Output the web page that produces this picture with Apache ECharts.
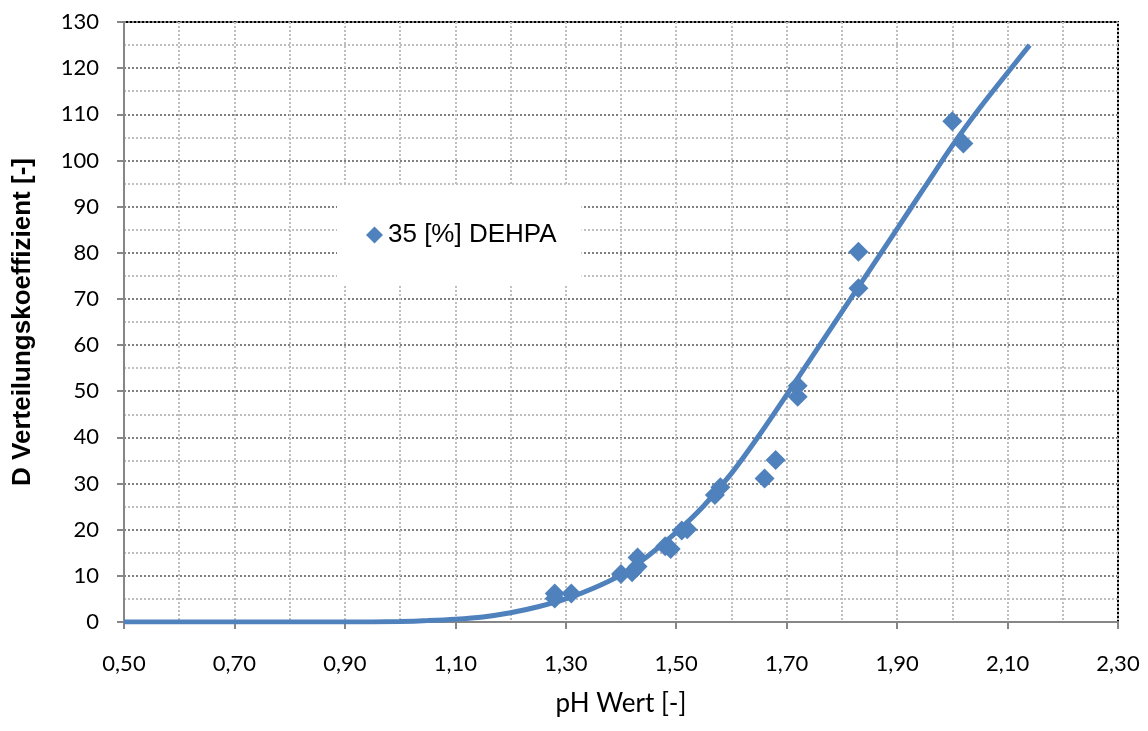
<!DOCTYPE html>
<html lang="de">
<head>
    <meta charset="utf-8">
    <script src="https://cdn.jsdelivr.net/npm/echarts@6/dist/echarts.min.js"></script>
    <style>
        html, body { margin: 0; padding: 0; background: #fff; }
        #chart { width: 1148px; height: 731px; }
    </style>
</head>
<body>
<div id="chart"></div>
<script type="text/javascript">
    // Messpunkte
    var seriesName = '35 [%] DEHPA';
    var phWerte = [1.28, 1.28, 1.31, 1.40, 1.42, 1.43, 1.43, 1.48, 1.49, 1.51, 1.52, 1.57, 1.58, 1.66, 1.68, 1.72, 1.72, 1.83, 1.83, 2.00, 2.02];
    var dWerte  = [6.2, 5.1, 6.2, 10.4, 10.8, 12.0, 14.0, 16.4, 15.8, 19.8, 20.1, 27.5, 29.2, 31.1, 35.1, 48.8, 51.2, 72.3, 80.2, 108.5, 103.7];

    // Ausgleichskurve
    var kurvePh = [0.50, 0.60, 0.70, 0.80, 0.90, 0.95, 1.00, 1.05, 1.10, 1.15, 1.20, 1.25, 1.30, 1.35, 1.40, 1.45, 1.50, 1.55, 1.60, 1.65, 1.70, 1.75, 1.80, 1.85, 1.90, 1.95, 2.00, 2.05, 2.10, 2.14];
    var kurveD  = [0, 0, 0, 0, 0, 0.02, 0.1, 0.3, 0.6, 1.1, 2.0, 3.3, 5.0, 7.3, 10.2, 14.4, 19.4, 25.2, 32.2, 40.4, 49.2, 58.2, 67.2, 76.2, 85.2, 94.2, 103.2, 111.4, 119.0, 125.0];

    var chart = echarts.init(document.getElementById('chart'));

    var punkte = phWerte.map(function (x, i) { return [x, dWerte[i]]; });
    var kurve = kurvePh.map(function (x, i) { return [x, kurveD[i]]; });

    var tickFont = 'Lato, "Open Sans", sans-serif';

    var option = {
        backgroundColor: '#fff',
        animation: false,
        grid: {
            left: 124,
            right: 30,
            top: 22,
            bottom: 109,
            show: true,
            borderColor: '#000',
            borderWidth: 2,
            backgroundColor: 'transparent'
        },
        legend: {
            data: [seriesName],
            left: 337,
            top: 185,
            orient: 'vertical',
            backgroundColor: '#fff',
            padding: [37, 25, 37, 29],
            itemWidth: 17,
            itemHeight: 17,
            icon: 'diamond',
            textStyle: {
                fontFamily: '"Liberation Sans", Arial, sans-serif',
                fontSize: 26,
                color: '#000'
            }
        },
        xAxis: {
            type: 'value',
            min: 0.5,
            max: 2.3,
            interval: 0.2,
            name: 'pH Wert [-]',
            nameLocation: 'middle',
            nameGap: 69,
            nameTextStyle: { fontFamily: tickFont, fontSize: 26, color: '#000' },
            axisLine: { onZero: false, lineStyle: { color: '#868686', width: 2 } },
            axisTick: { show: true, length: 7, inside: false, lineStyle: { color: '#868686', width: 2 } },
            axisLabel: {
                margin: 31,
                fontFamily: tickFont,
                fontSize: 22,
                color: '#000',
                formatter: function (v) { return v.toFixed(2).replace('.', ','); }
            },
            splitLine: { show: true, lineStyle: { type: 'dotted', color: '#bfbfbf', width: 2 } },
            minorTick: { show: false, splitNumber: 2 },
            minorSplitLine: { show: true, lineStyle: { type: 'dotted', color: '#bfbfbf', width: 2 } }
        },
        yAxis: {
            type: 'value',
            min: 0,
            max: 130,
            interval: 10,
            name: 'D Verteilungskoeffizient [-]',
            nameLocation: 'middle',
            nameGap: 88,
            nameTextStyle: {
                fontFamily: '"Liberation Sans", Arial, sans-serif',
                fontWeight: 'bold',
                fontSize: 26,
                color: '#000'
            },
            axisLine: { show: true, lineStyle: { color: '#868686', width: 2 } },
            axisTick: { show: true, length: 7, inside: false, lineStyle: { color: '#868686', width: 2 } },
            axisLabel: { margin: 25, fontFamily: tickFont, fontSize: 22, color: '#000' },
            splitLine: { show: true, lineStyle: { type: 'dotted', color: '#7f7f7f', width: 2 } },
            minorTick: { show: false, splitNumber: 2 },
            minorSplitLine: { show: true, lineStyle: { type: 'dotted', color: '#bfbfbf', width: 2 } }
        },
        series: [
            {
                name: 'Kurve',
                type: 'line',
                data: kurve,
                smooth: 0.3,
                showSymbol: false,
                symbol: 'none',
                lineStyle: { color: '#4f81bd', width: 5 },
                z: 3
            },
            {
                name: seriesName,
                type: 'scatter',
                data: punkte,
                symbol: 'diamond',
                symbolSize: 20,
                itemStyle: { color: '#4f81bd', opacity: 1 },
                z: 4
            }
        ]
    };

    chart.setOption(option);
</script>
</body>
</html>
